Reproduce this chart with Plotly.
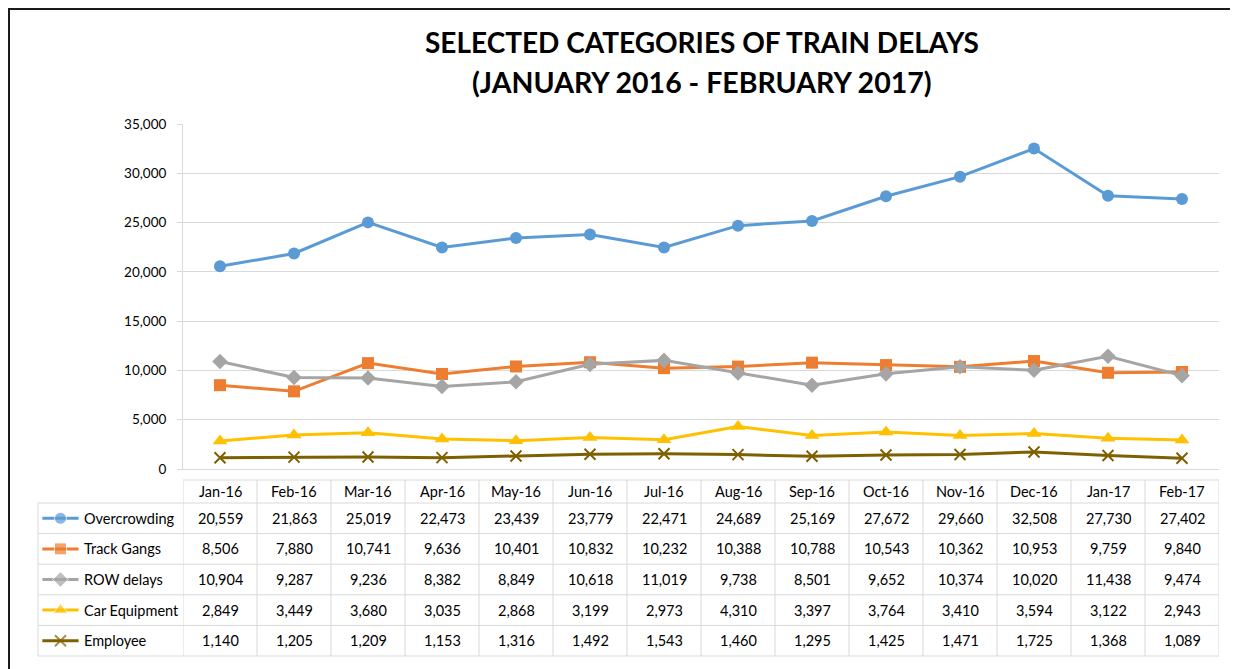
import plotly.graph_objects as go

months = ["Jan-16", "Feb-16", "Mar-16", "Apr-16", "May-16", "Jun-16", "Jul-16",
          "Aug-16", "Sep-16", "Oct-16", "Nov-16", "Dec-16", "Jan-17", "Feb-17"]

overcrowding = [20559, 21863, 25019, 22473, 23439, 23779, 22471, 24689, 25169, 27672, 29660, 32508, 27730, 27402]
track_gangs = [8506, 7880, 10741, 9636, 10401, 10832, 10232, 10388, 10788, 10543, 10362, 10953, 9759, 9840]
row_delays = [10904, 9287, 9236, 8382, 8849, 10618, 11019, 9738, 8501, 9652, 10374, 10020, 11438, 9474]
car_equipment = [2849, 3449, 3680, 3035, 2868, 3199, 2973, 4310, 3397, 3764, 3410, 3594, 3122, 2943]
employee = [1140, 1205, 1209, 1153, 1316, 1492, 1543, 1460, 1295, 1425, 1471, 1725, 1368, 1089]

series_names = ["Overcrowding", "Track Gangs", "ROW delays", "Car Equipment", "Employee"]
series_values = [overcrowding, track_gangs, row_delays, car_equipment, employee]
colors = ["#5B9BD5", "#ED7D31", "#A5A5A5", "#FFC000", "#7F6000"]
symbols = ["circle", "square", "diamond", "triangle-up", "x-thin-open"]
sizes = [12, 12, 12, 13, 11]

y_ticks = [0, 5000, 10000, 15000, 20000, 25000, 30000, 35000]
title_line1 = "SELECTED CATEGORIES OF TRAIN DELAYS"
title_line2 = "(JANUARY 2016 - FEBRUARY 2017)"

# the page body adds an 8px margin, so the figure is laid out 8px up/left
OFF = 8
W, H = 1238 - OFF, 669 - OFF
FONT = "Lato"


def px(x):
    return (x - OFF) / W


def py(y):
    return (H - (y - OFF)) / H


fig = go.Figure()

for name, vals, c, s, sz in zip(series_names, series_values, colors, symbols, sizes):
    marker = dict(color=c, size=sz, symbol=s)
    if s == "x-thin-open":
        marker["line"] = dict(color=c, width=2)
    fig.add_trace(go.Scatter(x=months, y=vals, name=name, mode="lines+markers",
                             line=dict(color=c, width=3), marker=marker,
                             showlegend=False, xaxis="x", yaxis="y"))

# legend keys inside the data table
for i, (name, c, s, sz) in enumerate(zip(series_names, colors, symbols, sizes)):
    marker = dict(color=c, size=[0, sz, 0], symbol=s)
    if s == "x-thin-open":
        marker["line"] = dict(color=c, width=2)
    fig.add_trace(go.Scatter(x=[0.03, 0.155, 0.28], y=[i, i, i], mode="lines+markers",
                             line=dict(color=c, width=3), marker=marker,
                             showlegend=False, hoverinfo="skip",
                             xaxis="x2", yaxis="y2"))

plot_left, plot_right, plot_top, plot_bottom = 183, 1219, 124, 469
tab_left, head_top, rows_top, tab_bottom = 38, 480, 503, 656
n_rows = len(series_names)
row_h = (tab_bottom - rows_top) / n_rows

fig.update_layout(
    width=W, height=H,
    margin=dict(l=0, r=0, t=0, b=0, pad=0, autoexpand=False),
    paper_bgcolor="white", plot_bgcolor="white",
    font=dict(family=FONT, size=14, color="#000000"),
    xaxis=dict(domain=[px(plot_left), px(plot_right)], type="category",
               range=[-0.5, len(months) - 0.5], showticklabels=False,
               showgrid=False, zeroline=False, showline=True, automargin=False,
               linecolor="#D9D9D9", linewidth=1, fixedrange=True),
    yaxis=dict(domain=[py(plot_bottom), py(plot_top)], range=[0, 35000],
               tickvals=y_ticks, tickformat=",", showgrid=True, automargin=False,
               gridcolor="#D9D9D9", gridwidth=1, zeroline=False,
               showline=True, linecolor="#D9D9D9", linewidth=1,
               ticks="outside", ticklen=5, tickcolor="#D9D9D9",
               ticklabelstandoff=8,
               tickfont=dict(family=FONT, size=13.5, color="#000000")),
    xaxis2=dict(domain=[px(tab_left), px(plot_left)], range=[0, 1], visible=False,
                anchor="y2", fixedrange=True, automargin=False),
    yaxis2=dict(domain=[py(tab_bottom), py(rows_top)], range=[n_rows - 0.5, -0.5],
                visible=False, anchor="x2", fixedrange=True, automargin=False),
)

shapes = []
grid_col = "#D9D9D9"
# outer border
shapes.append(dict(type="rect", xref="paper", yref="paper", x0=px(9), x1=px(1235),
                   y0=1 - 1.0 / H, y1=-0.01, line=dict(color="#1a1a1a", width=2)))
# horizontal table lines
shapes.append(dict(type="line", xref="paper", yref="paper", x0=px(plot_left), x1=px(plot_right),
                   y0=py(head_top), y1=py(head_top), line=dict(color=grid_col, width=1)))
for r in range(n_rows + 1):
    yy = rows_top + r * row_h
    shapes.append(dict(type="line", xref="paper", yref="paper", x0=px(tab_left), x1=px(plot_right),
                       y0=py(yy), y1=py(yy), line=dict(color=grid_col, width=1)))
# vertical table lines
shapes.append(dict(type="line", xref="paper", yref="paper", x0=px(tab_left), x1=px(tab_left),
                   y0=py(rows_top), y1=py(tab_bottom), line=dict(color=grid_col, width=1)))
for k in range(len(months) + 1):
    shapes.append(dict(type="line", xref="x", yref="paper", x0=k - 0.5, x1=k - 0.5,
                       y0=py(head_top), y1=py(tab_bottom), line=dict(color=grid_col, width=1)))

annotations = []
annotations.append(dict(text="<b>" + title_line1 + "</b>", xref="paper", yref="paper",
                        x=px(702), y=py(42), xanchor="center", yanchor="middle",
                        showarrow=False, font=dict(family=FONT, size=28, color="#000000")))
annotations.append(dict(text="<b>" + title_line2 + "</b>", xref="paper", yref="paper",
                        x=px(702), y=py(82), xanchor="center", yanchor="middle",
                        showarrow=False, font=dict(family=FONT, size=28.5, color="#000000")))
# header
for m in months:
    annotations.append(dict(text=m, xref="x", yref="paper", x=m,
                            y=py((head_top + rows_top) / 2), xanchor="center", yanchor="middle",
                            showarrow=False, font=dict(family=FONT, size=14.5, color="#000000")))
# rows
for r, (name, vals) in enumerate(zip(series_names, series_values)):
    yc = rows_top + (r + 0.5) * row_h
    annotations.append(dict(text=name, xref="paper", yref="paper", x=px(82), y=py(yc),
                            xanchor="left", yanchor="middle", showarrow=False,
                            font=dict(family=FONT, size=14.5, color="#000000")))
    for m, v in zip(months, vals):
        annotations.append(dict(text=f"{v:,}", xref="x", yref="paper", x=m, y=py(yc),
                                xanchor="center", yanchor="middle", showarrow=False,
                                font=dict(family=FONT, size=14.5, color="#000000")))

fig.update_layout(shapes=shapes, annotations=annotations)
fig.write_html("out.html")
